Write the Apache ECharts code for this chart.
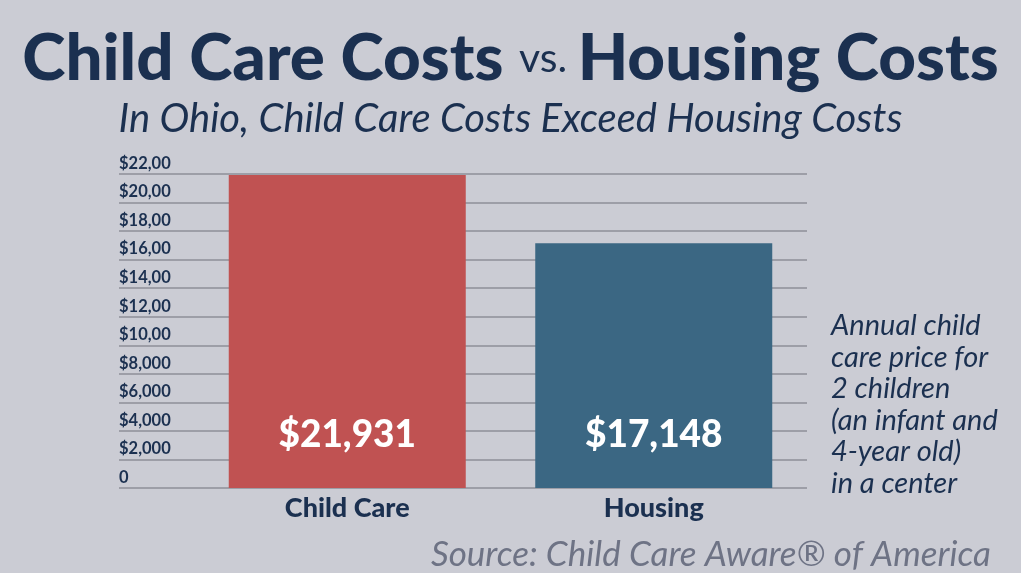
<!DOCTYPE html>
<html><head><meta charset="utf-8">
<script src="https://cdn.jsdelivr.net/npm/echarts@6/dist/echarts.min.js"></script>
<style>html,body{margin:0;padding:0;background:#cbccd4;}#c{width:1021px;height:573px;}</style>
</head><body><div id="c"></div>
<script>
const categories = ['Child Care', 'Housing'];
const values = [21931, 17148];
const barColors = ['#c05252', '#3b6783'];
const tickLabels = ['0', '$2,000', '$4,000', '$6,000', '$8,000', '$10,00', '$12,00', '$14,00', '$16,00', '$18,00', '$20,00', '$22,00'];
const yMax = 22000, yStep = 2000;

const navy = '#1b3050';
const chart = echarts.init(document.getElementById('c'));
chart.setOption({
  backgroundColor: '#cbccd4',
  title: [
    { text: '{a|Child Care Costs }{b|vs. }{a|Housing Costs}', left: 'center', top: 21,
      textStyle: { rich: {
        a: { fontFamily: 'Lato', fontWeight: 900, fontSize: 65.5, color: navy },
        b: { fontFamily: 'Lato', fontWeight: 'normal', fontSize: 41, color: navy } } } },
    { text: 'In Ohio, Child Care Costs Exceed Housing Costs', left: 'center', top: 94,
      textStyle: { fontFamily: 'Lato', fontStyle: 'italic', fontWeight: 'normal', fontSize: 40, color: navy } },
    { text: 'Annual child\ncare price for\n2 children\n(an infant and\n4-year old)\nin a center', left: 826, top: 305,
      textStyle: { fontFamily: 'Lato', fontStyle: 'italic', fontWeight: 'normal', fontSize: 29, lineHeight: 31.5, color: navy } },
    { text: 'Source: Child Care Aware® of America', right: 25, top: 532,
      textStyle: { fontFamily: 'Lato', fontStyle: 'italic', fontWeight: 'normal', fontSize: 35, color: '#6e7385' } }
  ],
  grid: [
    { left: 119, right: 214, top: 174, bottom: 85 },
    { left: 194, right: 214, top: 174, bottom: 85 }
  ],
  xAxis: [
    { type: 'value', gridIndex: 0, show: false, min: 0, max: 1 },
    { type: 'category', gridIndex: 1, data: categories,
      axisLine: { show: false }, axisTick: { show: false },
      axisLabel: { margin: 7, fontFamily: 'Lato', fontWeight: 900, fontSize: 27, color: navy } }
  ],
  yAxis: [
    { type: 'value', gridIndex: 0, min: 0, max: yMax, interval: yStep,
      axisLine: { show: false }, axisTick: { show: false },
      splitLine: { lineStyle: { color: '#8e8f99', width: 1.5 } },
      axisLabel: { inside: true, margin: 0, align: 'left', verticalAlign: 'bottom', padding: [0, 0, 2, 0],
        fontFamily: 'Lato', fontWeight: 'bold', fontSize: 16.5, color: navy,
        formatter: v => tickLabels[Math.round(v / yStep)] } },
    { type: 'value', gridIndex: 1, min: 0, max: yMax, interval: yStep, show: false, splitLine: { show: false } }
  ],
  series: [{
    type: 'bar', xAxisIndex: 1, yAxisIndex: 1, barWidth: 237,
    data: values.map((v, i) => ({ value: v, itemStyle: { color: barColors[i] } })),
    label: { show: true, position: 'insideBottom', distance: 34,
      fontFamily: 'Lato', fontWeight: 900, fontSize: 37, color: '#ffffff',
      formatter: p => '$' + p.value.toLocaleString('en-US') },
    animation: false
  }],
  animation: false
});
</script></body></html>
